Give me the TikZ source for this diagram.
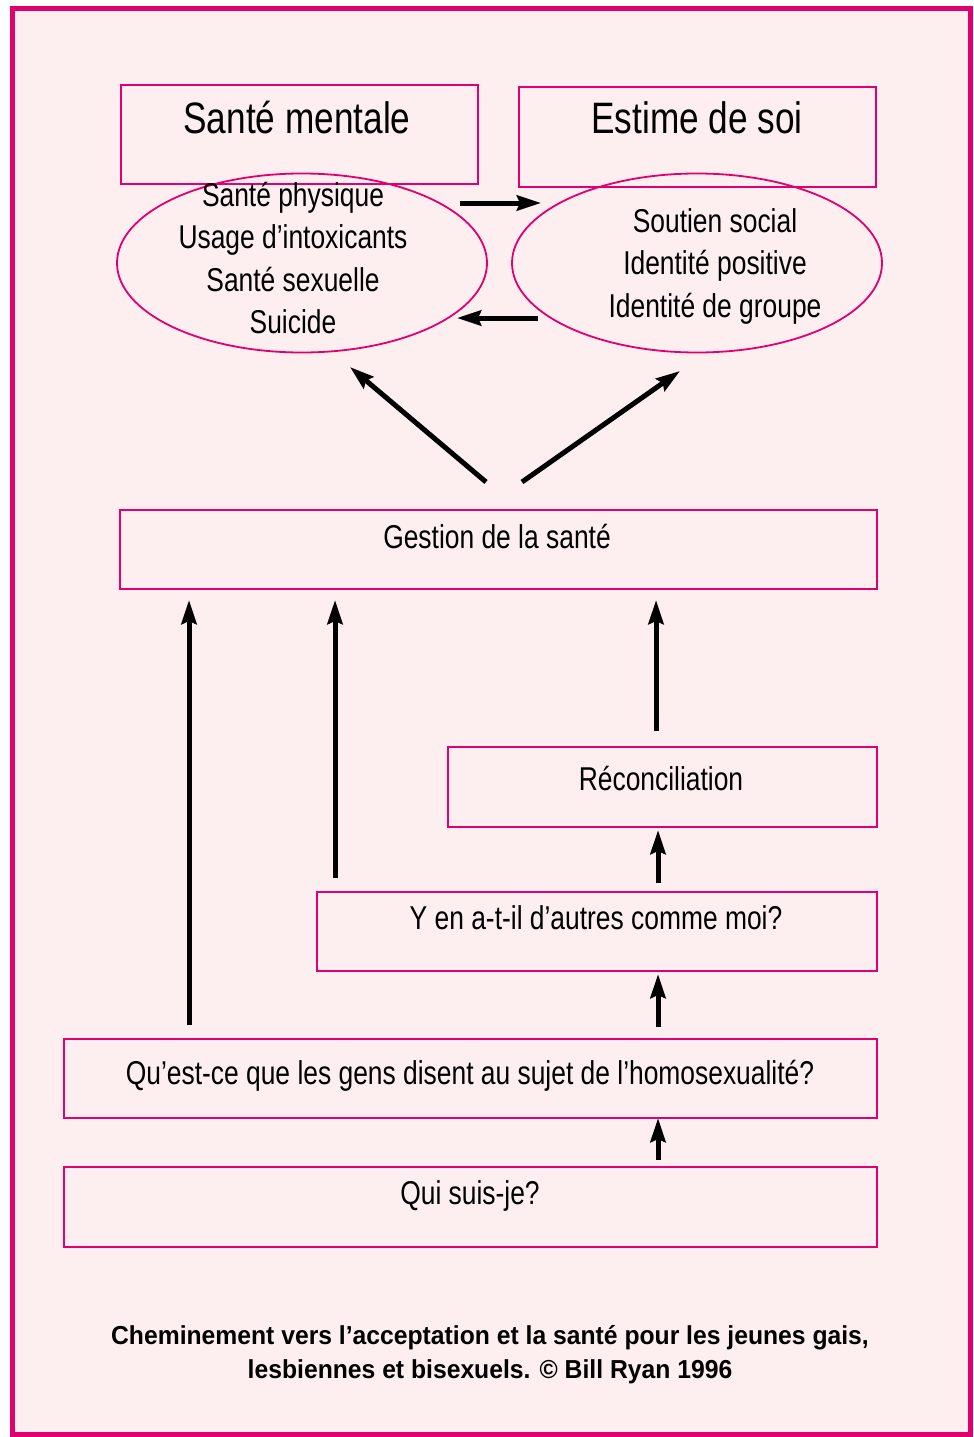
\documentclass[tikz,border=0pt]{standalone}
\usepackage{fontspec}
\setmainfont{Liberation Sans}[FakeStretch=0.8]
\newfontfamily\creditfont{Liberation Sans}[FakeStretch=0.95]
\usetikzlibrary{shapes.geometric, arrows.meta}
\definecolor{rose}{RGB}{226,0,110}
\definecolor{blush}{RGB}{253,238,240}

\begin{document}
\begin{tikzpicture}[x=1pt, y=-1pt,
    box/.style={draw=rose, line width=1.8pt, anchor=north west, inner sep=0pt},
    oval/.style={ellipse, draw=rose, line width=1.8pt, inner sep=0pt,
      minimum width=370pt, minimum height=179pt},
    bigtext/.style={font=\fontsize{44}{50}\selectfont, anchor=base},
    boxtext/.style={font=\fontsize{33}{42.5}\selectfont, align=center},
    credit/.style={font=\creditfont\bfseries\fontsize{26}{34}\selectfont, align=center},
    arrow/.style={line width=5pt, -{Stealth[length=24pt, width=15pt, inset=3pt]}}]
      \useasboundingbox (0,0) rectangle (974,1437);
      % page frame
      \fill[white] (0,0) rectangle (974,1437);
      \draw[rose, line width=5pt, fill=blush] (12.5,8.5) rectangle (970.5,1434.5);
      % top boxes
      \node[box, minimum width=357pt, minimum height=99pt] (mental) at (120,84) {};
      \node[bigtext] (mentaltext) at (297,133) {Santé mentale};
      \node[box, minimum width=357pt, minimum height=100pt] (estime) at (518,86) {};
      \node[bigtext] (estimetext) at (697,133) {Estime de soi};
      % ellipses
      \node[oval] (physique) at (302,263) {};
      \node[boxtext] (physiquetext) at (293,258)
        {Santé physique\\Usage d’intoxicants\\Santé sexuelle\\Suicide};
      \node[oval] (soutien) at (697,263) {};
      \node[boxtext] (soutientext) at (715,266)
        {Soutien social\\Identité positive\\Identité de groupe};
      % horizontal arrows between ellipses
      \coordinate (toright1) at (460,203);
      \coordinate (toright2) at (541,203);
      \coordinate (toleft1) at (538,318);
      \coordinate (toleft2) at (457,318);
      \draw[arrow] (toright1) -- (toright2);
      \draw[arrow] (toleft1) -- (toleft2);
      % health management
      \node[box, minimum width=757pt, minimum height=79pt] (gestion) at (119,509) {};
      \node[boxtext] (gestiontext) at (497,537) {Gestion de la santé};
      \coordinate (diagl1) at (486,482);
      \coordinate (diagl2) at (350,367);
      \coordinate (diagr1) at (522,482);
      \coordinate (diagr2) at (680,371);
      \draw[arrow] (diagl1) -- (diagl2);
      \draw[arrow] (diagr1) -- (diagr2);
      % lower boxes
      \node[box, minimum width=429pt, minimum height=80pt] (reconc) at (447,746) {};
      \node[boxtext] (reconctext) at (661,779) {Réconciliation};
      \node[box, minimum width=560pt, minimum height=79pt] (autres) at (316,891) {};
      \node[boxtext] (autrestext) at (596,918) {Y en a-t-il d’autres comme moi?};
      \node[box, minimum width=813pt, minimum height=79pt] (gens) at (63,1038) {};
      \node[boxtext] (genstext) at (470,1076) {Qu’est-ce que les gens disent au sujet de l’homosexualité?};
      \node[box, minimum width=813pt, minimum height=80pt] (qui) at (63,1166) {};
      \node[boxtext] (quitext) at (470,1196) {Qui suis-je?};
      % upward arrows
      \coordinate (up1a) at (189,1025);
      \coordinate (up1b) at (189,600);
      \coordinate (up2a) at (335,878);
      \coordinate (up2b) at (335,600);
      \coordinate (up3a) at (656,731);
      \coordinate (up3b) at (656,600);
      \coordinate (step1a) at (658,883);
      \coordinate (step1b) at (658,830);
      \coordinate (step2a) at (658,1027);
      \coordinate (step2b) at (658,974);
      \coordinate (step3a) at (658,1160);
      \coordinate (step3b) at (658,1118);
      \draw[arrow] (up1a) -- (up1b);
      \draw[arrow] (up2a) -- (up2b);
      \draw[arrow] (up3a) -- (up3b);
      \draw[arrow] (step1a) -- (step1b);
      \draw[arrow] (step2a) -- (step2b);
      \draw[arrow] (step3a) -- (step3b);
      % caption
      \node[credit] (legend) at (490,1355)
        {Cheminement vers l’acceptation et la santé pour les jeunes gais,\\lesbiennes et bisexuels. © Bill Ryan 1996};
    \end{tikzpicture}
\end{document}
